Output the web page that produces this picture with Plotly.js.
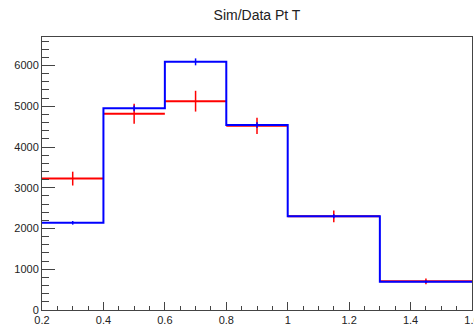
<!DOCTYPE html>
<html>
<head>
<meta charset="utf-8">
<script src="https://cdn.plot.ly/plotly-3.0.1.min.js"></script>
<style>html,body{margin:0;padding:0;background:#fff;overflow:hidden;}#chart{width:474px;height:327px;}</style>
</head>
<body>
<div id="chart"></div>
<script>
// Bin edges (Pt T) and bin centres
const binEdges = [0.2, 0.4, 0.6, 0.8, 1.0, 1.3, 1.6];
const binCenters = [0.3, 0.5, 0.7, 0.9, 1.15, 1.45];
// Simulation (blue histogram)
const simValues = [2140, 4950, 6090, 4540, 2300, 695];
const simErrors = [45, 70, 85, 70, 50, 30];
// Data (red points)
const dataValues = [3225, 4815, 5125, 4520, 2300, 705];
const dataErrors = [170, 245, 255, 200, 145, 70];
const title = "Sim/Data Pt T";

const halfWidths = binCenters.map((c, i) => c - binEdges[i]);
const simStepY = simValues.concat([simValues[simValues.length - 1]]);

const traces = [
  {
    x: binCenters, y: dataValues, type: 'scatter', mode: 'markers',
    marker: {size: 0.1, color: 'rgba(0,0,0,0)'},
    error_x: {type: 'data', array: halfWidths, visible: true, color: '#ff0000', thickness: 2, width: 0},
    error_y: {type: 'data', array: dataErrors, visible: true, color: '#ff0000', thickness: 1.5, width: 0},
    hoverinfo: 'skip', showlegend: false
  },
  {
    x: binEdges, y: simStepY, type: 'scatter', mode: 'lines',
    line: {shape: 'hv', color: '#0000ff', width: 2},
    hoverinfo: 'skip', showlegend: false
  },
  {
    x: binCenters, y: simValues, type: 'scatter', mode: 'markers',
    marker: {size: 0.1, color: 'rgba(0,0,0,0)'},
    error_y: {type: 'data', array: simErrors, visible: true, color: '#0000ff', thickness: 1.5, width: 0},
    hoverinfo: 'skip', showlegend: false
  }
];

const tickFont = {family: 'Liberation Sans, Arial, sans-serif', size: 11, color: '#222'};
const layout = {
  width: 474, height: 327,
  margin: {l: 42, r: 2, t: 37, b: 17, pad: 0},
  paper_bgcolor: '#fff', plot_bgcolor: '#fff',
  title: {text: title, x: 0.5, xref: 'paper', xanchor: 'center', y: 0.954, yref: 'container', yanchor: 'middle',
          font: {family: 'Liberation Sans, Arial, sans-serif', size: 14, color: '#222'}},
  xaxis: {
    range: [0.2, 1.6], dtick: 0.2, tick0: 0.2, showgrid: false, zeroline: false,
    showline: true, linecolor: '#444', linewidth: 1, mirror: true,
    ticks: 'inside', ticklen: 8, tickcolor: '#444', tickwidth: 1,
    minor: {dtick: 0.05, tick0: 0.2, ticks: 'inside', ticklen: 4, tickcolor: '#444', showgrid: false},
    tickfont: tickFont, fixedrange: true, ticklabeloverflow: 'allow'
  },
  yaxis: {
    range: [0, 6700], dtick: 1000, tick0: 0, showgrid: false, zeroline: false,
    showline: true, linecolor: '#444', linewidth: 1, mirror: true,
    ticks: 'inside', ticklen: 13, tickcolor: '#444', tickwidth: 1,
    minor: {dtick: 200, ticks: 'inside', ticklen: 7, tickcolor: '#444', showgrid: false},
    tickfont: tickFont, fixedrange: true
  }
};

Plotly.newPlot('chart', traces, layout, {staticPlot: true, displayModeBar: false});
</script>
</body>
</html>
